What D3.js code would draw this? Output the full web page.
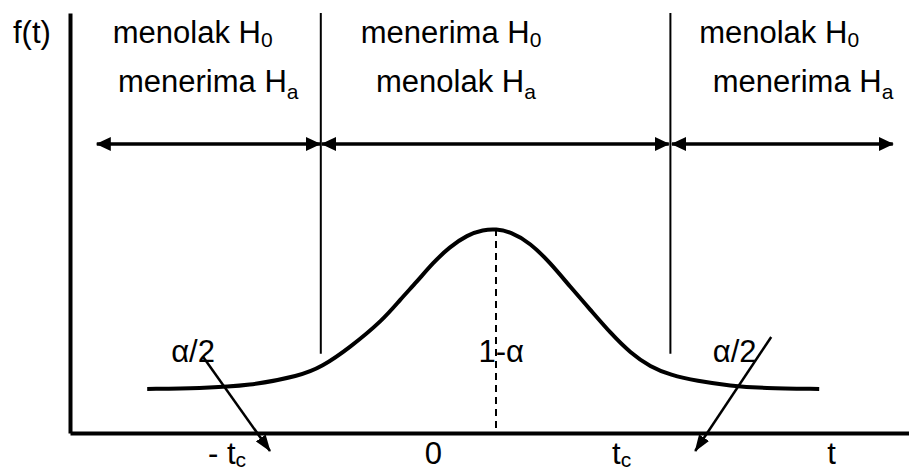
<!DOCTYPE html>
<html>
<head>
<meta charset="utf-8">
<script src="https://cdn.jsdelivr.net/npm/d3@7"></script>
<style>
body { margin: 0; background: #fff; }
text { font-family: "Liberation Sans", Arial, sans-serif; fill: #000; }
</style>
</head>
<body>
<div id="chart"></div>
<script>
// density curve (t units, f units)
var curveT = [-4.36, -3.70, -3.08, -2.45, -2.18, -1.83, -1.41, -1.20, -0.99, -0.79, -0.58, -0.36, -0.16, 0,
              0.18, 0.43, 0.68, 0.93, 1.18, 1.43, 1.68, 1.93, 2.18, 2.51, 2.93, 3.34, 4.04];
var curveF = [0.110, 0.112, 0.118, 0.143, 0.165, 0.213, 0.283, 0.333, 0.378, 0.425, 0.465, 0.495, 0.508, 0.510,
              0.503, 0.475, 0.425, 0.365, 0.308, 0.250, 0.200, 0.165, 0.145, 0.130, 0.118, 0.112, 0.110];

var criticalT = [-2.19, 2.18];
var criticalTopF = 0.198;
var peakT = 0, peakF = 0.51;

var regionSpans = [[-4.99, -2.2], [-2.175, 2.16], [2.2, 4.96]];
var regionArrowF = 0.7225;
var regionLine1 = ["menolak H", "menerima H", "menolak H"];
var regionLine2 = ["menerima H", "menolak H", "menerima H"];

var tickT = [-3.6, -0.89, 1.45, 4.14];
var tickLabels = ["- t", "0", "t", "t"];
var tickSubs = ["c", "", "c", ""];

var areaLabels = ["\u03b1/2", "1-\u03b1", "\u03b1/2"];
var areaT = [-4.06, -0.22, 2.71];
var pointerFrom = [[-3.66, 0.19], [3.44, 0.24]];
var pointerTo = [[-2.825, -0.045], [2.49, -0.045]];

var margin = {top: 13, right: 0, bottom: 39, left: 70},
    width = 909 - margin.left - margin.right,
    height = 472 - margin.top - margin.bottom;

var svg = d3.select("#chart")
  .append("svg")
  .attr("width", width + margin.left + margin.right)
  .attr("height", height + margin.top + margin.bottom)
  .append("g")
  .attr("transform", "translate(" + margin.left + "," + margin.top + ")");

var x = d3.scaleLinear().domain([-5.325, 5.1625]).range([0, width]);
var y = d3.scaleLinear().domain([0, 1.05]).range([height, 0]);

var defs = svg.append("defs");
defs.append("marker")
  .attr("id", "head")
  .attr("viewBox", "0 -7 15 14")
  .attr("markerUnits", "userSpaceOnUse")
  .attr("markerWidth", 15).attr("markerHeight", 14)
  .attr("refX", 14).attr("refY", 0)
  .attr("orient", "auto-start-reverse")
  .append("path").attr("d", "M0,-7L15,0L0,7Z").attr("fill", "#000");
defs.append("marker")
  .attr("id", "pointer")
  .attr("viewBox", "0 -6 17 12")
  .attr("markerUnits", "userSpaceOnUse")
  .attr("markerWidth", 17).attr("markerHeight", 12)
  .attr("refX", 16).attr("refY", 0)
  .attr("orient", "auto")
  .append("path").attr("d", "M0,-6L17,0L0,6Z").attr("fill", "#000");

// axes (no ticks, just the lines)
svg.append("g")
  .attr("class", "yaxis")
  .call(d3.axisLeft(y).ticks(0).tickSizeOuter(0))
  .select(".domain").attr("stroke-width", 4);

svg.append("g")
  .attr("class", "xaxis")
  .attr("transform", "translate(0," + height + ")")
  .call(d3.axisBottom(x).ticks(0).tickSizeOuter(0))
  .select(".domain").attr("stroke-width", 4);

// critical value lines
svg.selectAll(".crit")
  .data(criticalT)
  .enter()
  .append("line")
  .attr("x1", function(d) { return x(d); })
  .attr("x2", function(d) { return x(d); })
  .attr("y1", y(1.05))
  .attr("y2", y(criticalTopF))
  .attr("stroke", "#000")
  .attr("stroke-width", 2);

// region arrows
svg.selectAll(".span")
  .data(regionSpans)
  .enter()
  .append("line")
  .attr("x1", function(d) { return x(d[0]); })
  .attr("x2", function(d) { return x(d[1]); })
  .attr("y1", y(regionArrowF))
  .attr("y2", y(regionArrowF))
  .attr("stroke", "#000")
  .attr("stroke-width", 3.5)
  .attr("marker-start", "url(#head)")
  .attr("marker-end", "url(#head)");

// dashed line at the peak
svg.append("line")
  .attr("x1", x(peakT)).attr("x2", x(peakT))
  .attr("y1", y(peakF)).attr("y2", y(0))
  .attr("stroke", "#000")
  .attr("stroke-width", 2)
  .attr("stroke-dasharray", "7,5");

// the curve
var pts = curveT.map(function(t, i) { return [t, curveF[i]]; });
svg.append("path")
  .datum(pts)
  .attr("fill", "none")
  .attr("stroke", "#000")
  .attr("stroke-width", 4)
  .attr("d", d3.line()
    .x(function(d) { return x(d[0]); })
    .y(function(d) { return y(d[1]); })
    .curve(d3.curveBasis));

// alpha pointers
svg.selectAll(".ptr")
  .data(pointerFrom)
  .enter()
  .append("line")
  .attr("x1", function(d) { return x(d[0]); })
  .attr("y1", function(d) { return y(d[1]); })
  .attr("x2", function(d, i) { return x(pointerTo[i][0]); })
  .attr("y2", function(d, i) { return y(pointerTo[i][1]); })
  .attr("stroke", "#000")
  .attr("stroke-width", 2.5)
  .attr("marker-end", "url(#pointer)");

// text labels
var fs = 31;
function label(px, py, main, sub, dy) {
  var t = svg.append("text")
    .attr("x", px).attr("y", py)
    .style("font-size", fs + "px")
    .text(main);
  if (sub) {
    t.append("tspan")
      .attr("dy", dy)
      .style("font-size", "21px")
      .text(sub);
  }
  return t;
}

var line1X = [-4.79, -1.69, 2.54];
var line2X = [-4.725, -1.5, 2.71];
regionLine1.forEach(function(s, i) { label(x(line1X[i]), 30, s, "0", 4); });
regionLine2.forEach(function(s, i) { label(x(line2X[i]), 79, s, "a", 7); });

label(-57, 30, "f(t)");

tickLabels.forEach(function(s, i) {
  label(x(tickT[i]), height + 31, s, tickSubs[i], 3);
});

areaLabels.forEach(function(s, i) {
  label(x(areaT[i]), y(0.178), s);
});
</script>
</body>
</html>
